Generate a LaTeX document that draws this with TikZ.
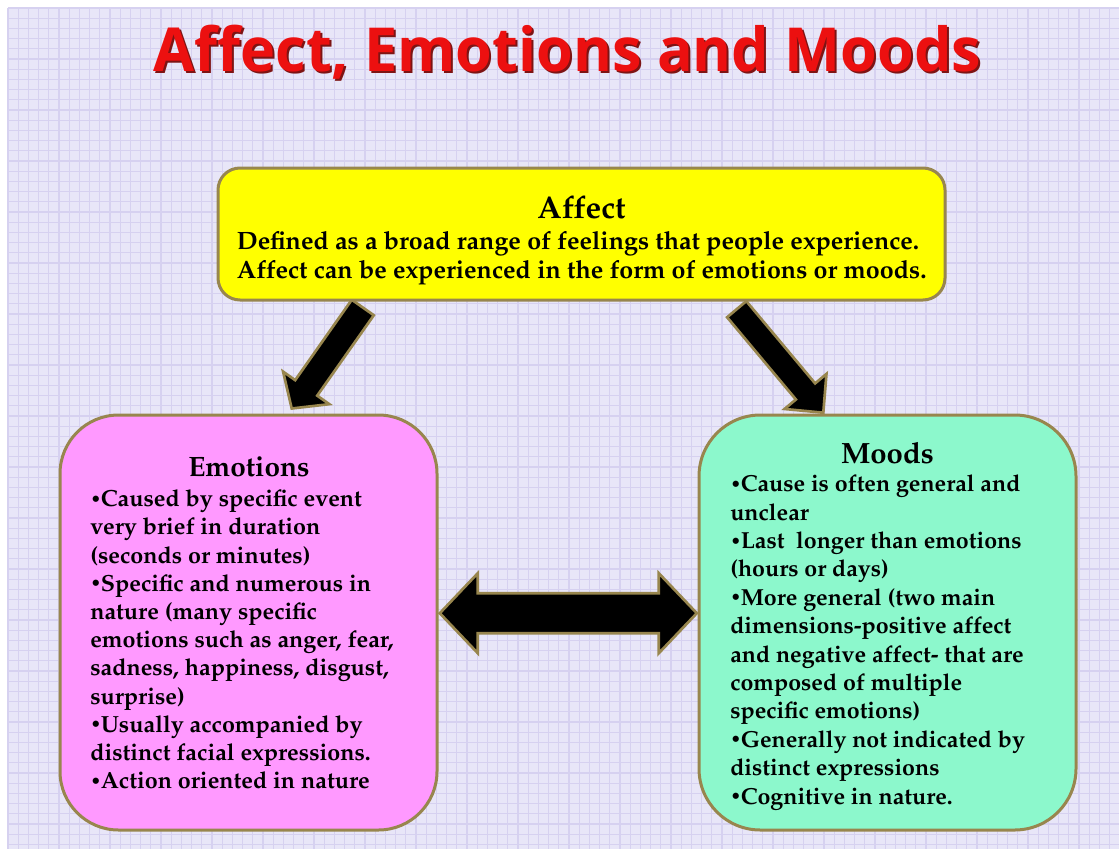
\documentclass[tikz,border=0pt]{standalone}
\usepackage{fontspec}
\usepackage{graphicx}
\usetikzlibrary{calc}

% Palatino bold for the box texts, a bold sans for the heading
\newcommand\pal{\fontencoding{T1}\fontfamily{ppl}\fontseries{b}\selectfont}
\newfontfamily\headfont{Open Sans}
% small bullet set tight against its item
\newcommand\bul{\raisebox{0.06em}{\scalebox{0.78}{\textbullet}}\kern-0.02em}

\definecolor{bgcol}{RGB}{232,230,248}
\definecolor{gridcol}{RGB}{214,209,240}
\definecolor{rimcol}{RGB}{152,134,78}
\definecolor{affectfill}{RGB}{255,255,0}
\definecolor{emofill}{RGB}{255,153,255}
\definecolor{moodfill}{RGB}{140,248,204}
\definecolor{titlered}{RGB}{236,16,16}
\definecolor{titleshade}{RGB}{125,20,20}

\tikzset{
  panel/.style={draw=rimcol, line width=2.25pt, inner sep=0pt},
  blockarrowstyle/.style={fill=black, draw=rimcol, line width=2pt, line join=miter},
  boxhead/.style={font=\pal\fontsize{21}{24}\selectfont, inner sep=0pt, anchor=base},
  boxbody/.style={inner sep=0pt, anchor=base west},
  headline/.style={font=\headfont\bfseries\fontsize{45.5}{50}\selectfont, inner sep=0pt, anchor=base},
}

% single block arrow: tail centre, tip, shaft half width, head half width, head length
\newcommand\blockarrow[5]{%
  \coordinate (ba-h) at ($(#2)!#5!(#1)$);
  \filldraw[blockarrowstyle]
    ($(#1)!#3!90:(#2)$) -- ($(ba-h)!#3!90:(#2)$) -- ($(ba-h)!#4!90:(#2)$) --
    (#2) -- ($(ba-h)!#4!-90:(#2)$) -- ($(ba-h)!#3!-90:(#2)$) --
    ($(#1)!#3!-90:(#2)$) -- cycle;
}
% block arrow with a head at each end
\newcommand\doubleblockarrow[5]{%
  \coordinate (da-a) at ($(#1)!#5!(#2)$);
  \coordinate (da-b) at ($(#2)!#5!(#1)$);
  \filldraw[blockarrowstyle]
    (#1) -- ($(da-a)!#4!90:(#2)$) -- ($(da-a)!#3!90:(#2)$) --
    ($(da-b)!#3!-90:(#1)$) -- ($(da-b)!#4!-90:(#1)$) -- (#2) --
    ($(da-b)!#4!90:(#1)$) -- ($(da-b)!#3!90:(#1)$) --
    ($(da-a)!#3!-90:(#2)$) -- ($(da-a)!#4!-90:(#2)$) -- cycle;
}

\begin{document}
\begin{tikzpicture}[x=0.75pt, y=-0.75pt]
\useasboundingbox (0,0) rectangle (1119,849);
\fill[white] (0,0) rectangle (1119,849);

% squared paper
\fill[bgcol] (8,8) rectangle (1119,849);
\foreach \i in {0,...,109} {
  \draw[gridcol, line width=0.8pt] ({8+10.2*\i},8) -- ({8+10.2*\i},849);
}
\foreach \j in {0,...,82} {
  \draw[gridcol, line width=0.8pt] (8,{8+10.2*\j}) -- (1119,{8+10.2*\j});
}

% heading with a dark drop shadow
\node[headline, text=titleshade] (titleshadow) at (569.5,73.5)
  {\scalebox{0.978}[1]{Affect, Emotions and Moods}};
\node[headline, text=titlered] (title) at (567.5,71.5)
  {\scalebox{0.978}[1]{Affect, Emotions and Moods}};

% arrows from the top box down to the two lower boxes
\coordinate (la-tail) at (362.8,307.5);
\coordinate (la-tip)  at (291.7,408.5);
\coordinate (ra-tail) at (736.7,309.2);
\coordinate (ra-tip)  at (823.3,412.7);
\blockarrow{la-tail}{la-tip}{10.1pt}{21.2pt}{18.9pt}
\blockarrow{ra-tail}{ra-tip}{9.4pt}{20.5pt}{20.8pt}

% the three boxes
\node[panel, fill=affectfill, rounded corners=16.5pt,
      minimum width=545.25pt, minimum height=99pt] (affect) at (581.5,234) {};
\node[panel, fill=emofill, rounded corners=44pt,
      minimum width=282.75pt, minimum height=311.25pt] (emo) at (248.5,622.5) {};
\node[panel, fill=moodfill, rounded corners=46pt,
      minimum width=282.75pt, minimum height=311.25pt] (mood) at (887.5,622.5) {};

% two-headed arrow between emotions and moods
\coordinate (da-left)  at ($(emo.east)+(1.3,-9.3)$);
\coordinate (da-right) at ($(mood.west)+(-0.7,-9.3)$);
\doubleblockarrow{da-left}{da-right}{15pt}{30pt}{28.5pt}

% texts
\node[boxhead, font=\pal\fontsize{23.5}{26}\selectfont] (affecthead) at (581.5,218.5) {Affect};
\node[boxbody] (affecttext) at (236.7,249.3) {\pal\fontsize{18.8}{21.75}\selectfont
  \parbox[t]{620pt}{\raggedright
  Defined as a broad range of feelings that people experience.\\
  Affect can be experienced in the form of emotions or moods.}};

\node[boxhead] (emohead) at (249,476.7) {Emotions};
\node[boxbody] (emotext) at (90,506.7) {\pal\fontsize{17.5}{21.15}\selectfont
  \parbox[t]{270pt}{\raggedright
  \bul Caused by specific event\\
  very brief in duration\\
  (seconds or minutes)\\
  \bul Specific and numerous in\\
  nature (many specific\\
  emotions such as anger, fear,\\
  sadness, happiness, disgust,\\
  surprise)\\
  \bul Usually accompanied by\\
  distinct facial expressions.\\
  \bul Action oriented in nature}};

\node[boxhead, font=\pal\fontsize{22}{24}\selectfont] (moodhead) at (887.5,463.8) {Moods};
\node[boxbody] (moodtext) at (730,491.7) {\pal\fontsize{17.4}{21.3}\selectfont
  \parbox[t]{270pt}{\raggedright
  \bul Cause is often general and\\
  unclear\\
  \bul Last\ \ longer than emotions\\
  (hours or days)\\
  \bul More general (two main\\
  dimensions-positive affect\\
  and negative affect- that are\\
  composed of multiple\\
  specific emotions)\\
  \bul Generally not indicated by\\
  distinct expressions\\
  \bul Cognitive in nature.}};
\end{tikzpicture}
\end{document}
